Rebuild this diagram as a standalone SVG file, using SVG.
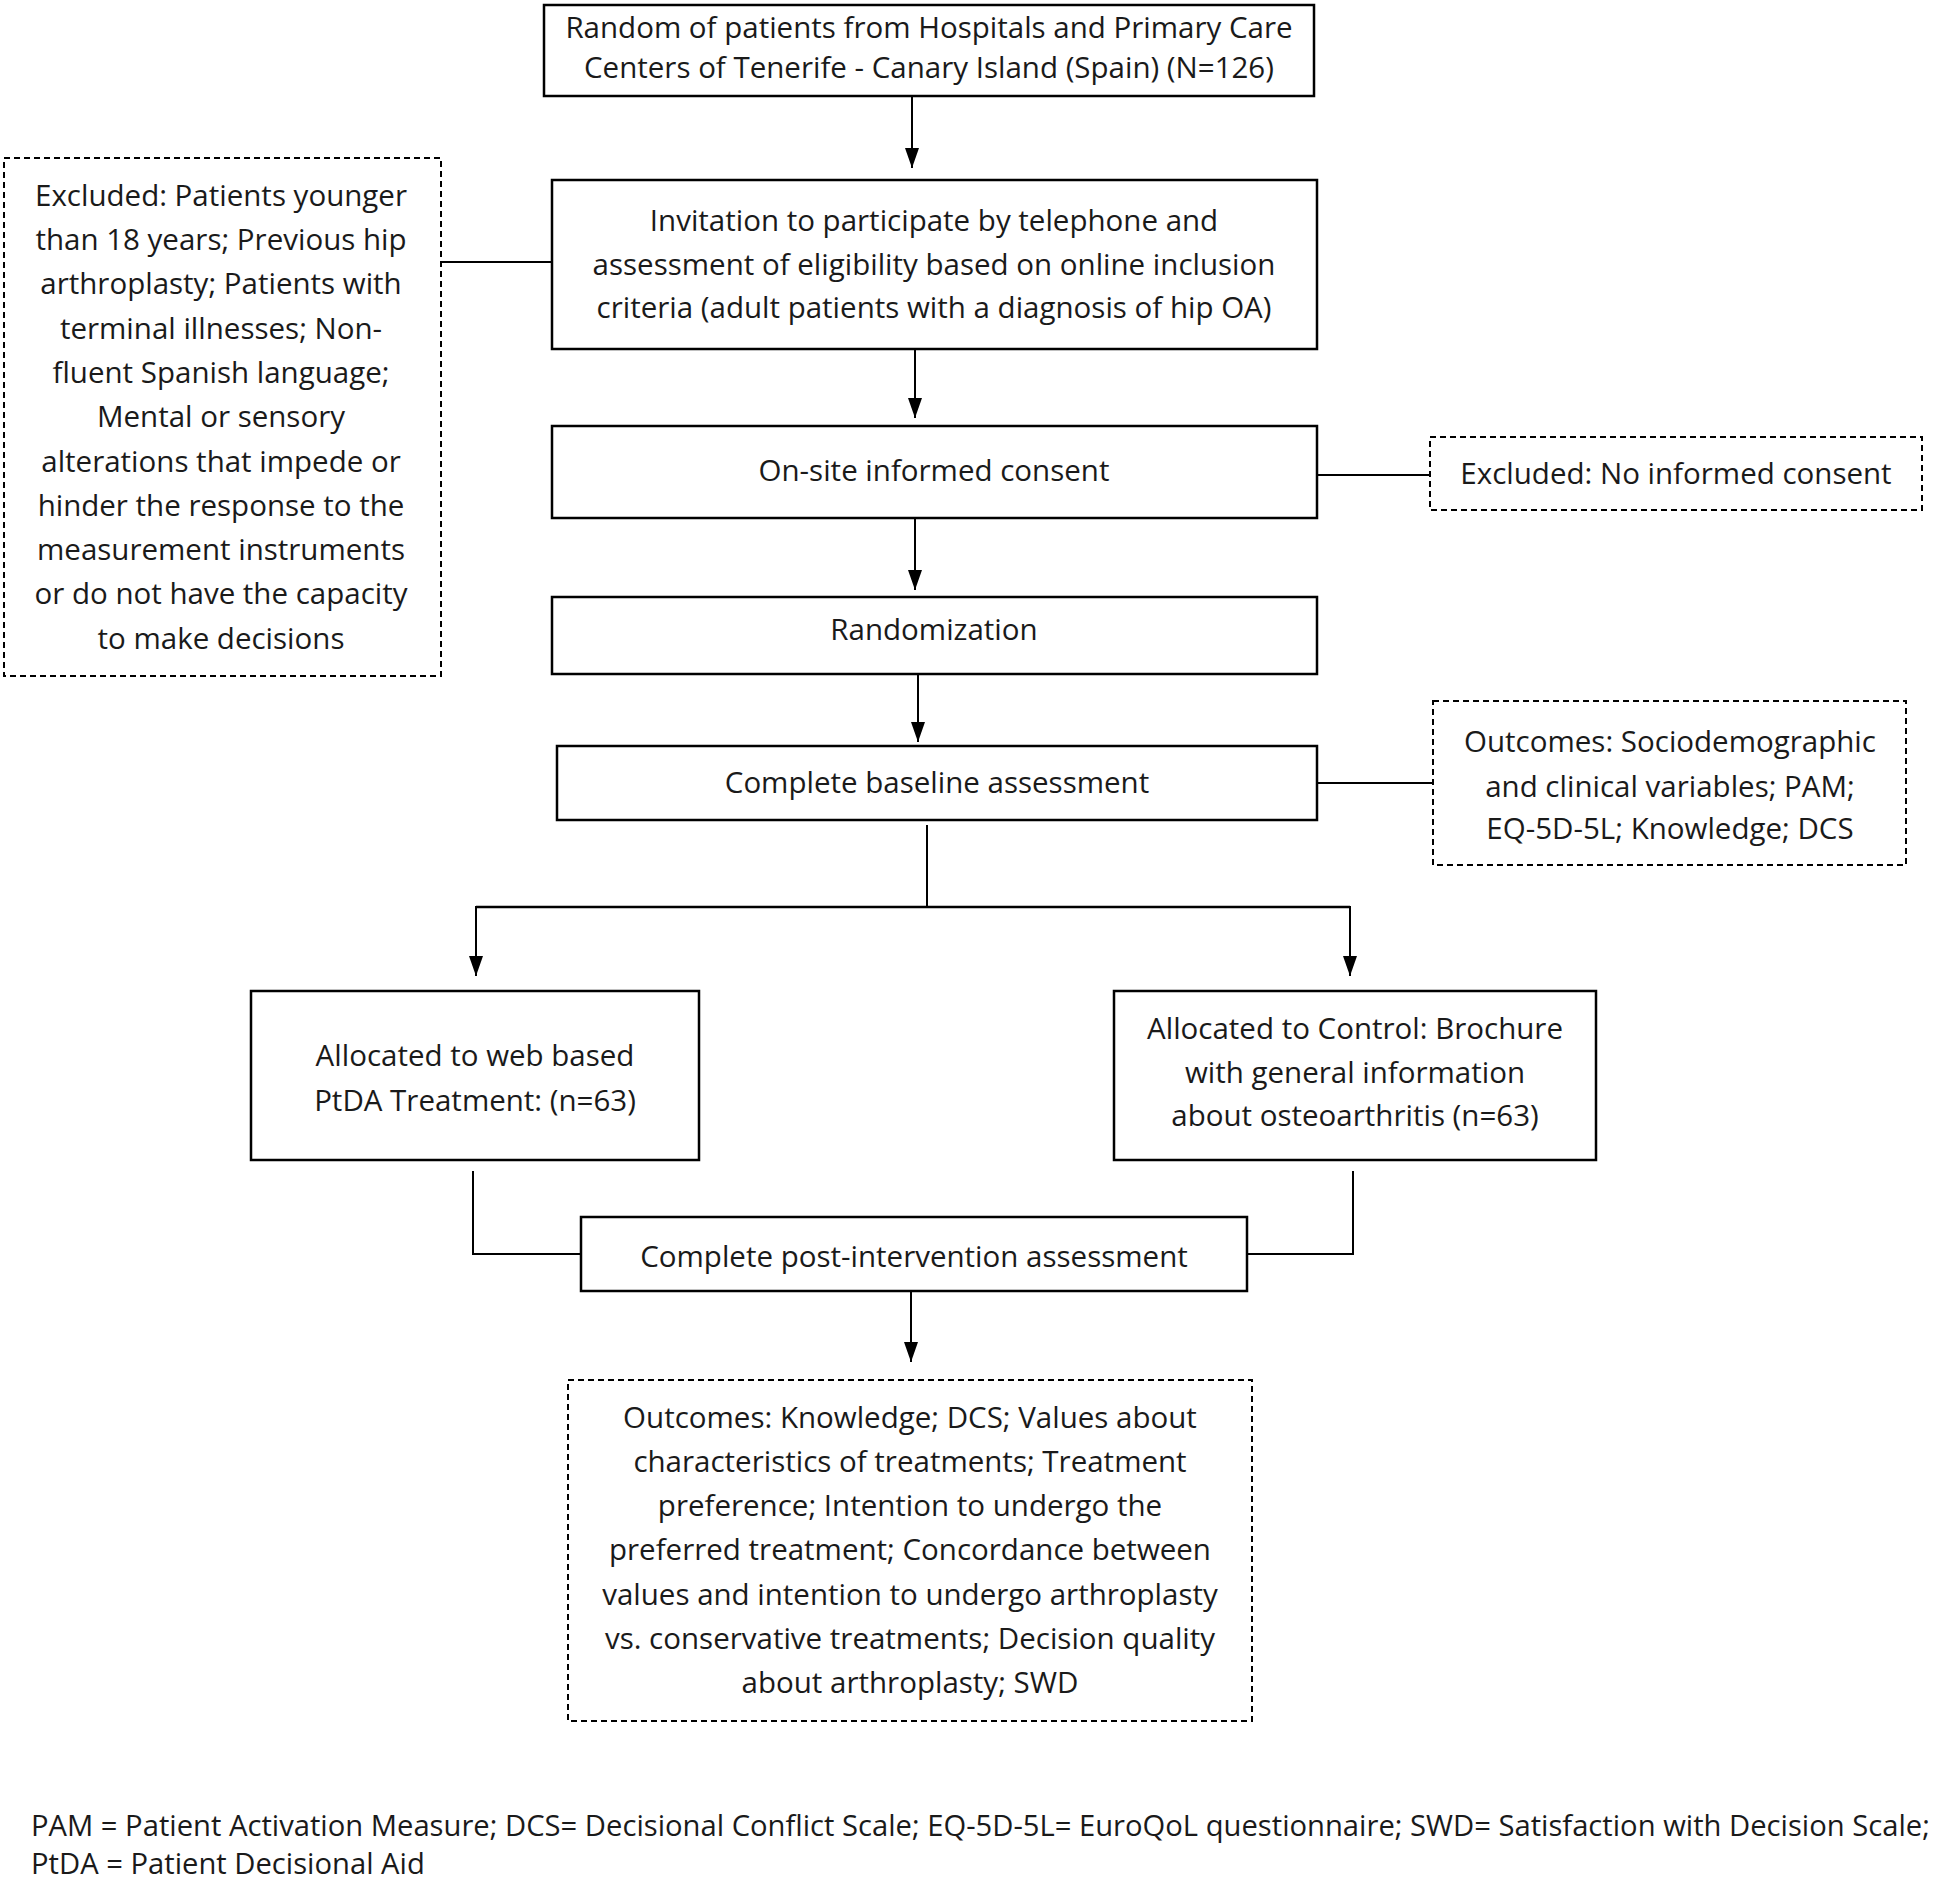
<svg xmlns="http://www.w3.org/2000/svg" width="1946" height="1880" viewBox="0 0 1946 1880">
<defs>
<style>
.box{fill:#fff;stroke:#000;stroke-width:2.5}
.dbox{fill:#fff;stroke:#000;stroke-width:2;stroke-dasharray:6 4}
.ln{fill:none;stroke:#000;stroke-width:2}
.t{font-family:"Open Sans","Liberation Sans",sans-serif;font-size:29.5px;fill:#1a1a1a;text-anchor:middle}
.f{font-family:"Open Sans","Liberation Sans",sans-serif;font-size:29.2px;fill:#1a1a1a}
</style>
<marker id="arr" viewBox="0 0 20 14" refX="20" refY="7" markerWidth="20" markerHeight="14" markerUnits="userSpaceOnUse" orient="auto">
<path d="M0,0 L20,7 L0,14 z" fill="#000"/>
</marker>
</defs>
<rect width="1946" height="1880" fill="#fff"/>
<g id="connectors">
<line class="ln" x1="912" y1="96" x2="912" y2="168" marker-end="url(#arr)"/>
<line class="ln" x1="441" y1="262" x2="552" y2="262"/>
<line class="ln" x1="915" y1="349" x2="915" y2="418" marker-end="url(#arr)"/>
<line class="ln" x1="1317" y1="475" x2="1430" y2="475"/>
<line class="ln" x1="915" y1="518" x2="915" y2="590" marker-end="url(#arr)"/>
<line class="ln" x1="918" y1="674" x2="918" y2="742" marker-end="url(#arr)"/>
<line class="ln" x1="1317" y1="783" x2="1433" y2="783"/>
<line class="ln" x1="927" y1="825" x2="927" y2="907"/>
<line class="ln" x1="476" y1="907" x2="1350" y2="907" style="stroke-width:2.5"/>
<line class="ln" x1="476" y1="906" x2="476" y2="976" marker-end="url(#arr)"/>
<line class="ln" x1="1350" y1="906" x2="1350" y2="976" marker-end="url(#arr)"/>
<polyline class="ln" points="473,1171 473,1254 581,1254"/>
<polyline class="ln" points="1353,1171 1353,1254 1247,1254"/>
<line class="ln" x1="911" y1="1291" x2="911" y2="1362" marker-end="url(#arr)"/>
</g>
<g id="n-random">
<rect class="box" x="544" y="5" width="770" height="91"/>
<text class="t" x="929" y="38">Random of patients from Hospitals and Primary Care</text>
<text class="t" x="929" y="78">Centers of Tenerife - Canary Island (Spain) (N=126)</text>
</g>
<g id="n-excluded1">
<rect class="dbox" x="4" y="158" width="437" height="518"/>
<text class="t" x="221" y="206">Excluded: Patients younger</text>
<text class="t" x="221" y="250">than 18 years; Previous hip</text>
<text class="t" x="221" y="294">arthroplasty; Patients with</text>
<text class="t" x="221" y="339">terminal illnesses; Non-</text>
<text class="t" x="221" y="383">fluent Spanish language;</text>
<text class="t" x="221" y="427">Mental or sensory</text>
<text class="t" x="221" y="472">alterations that impede or</text>
<text class="t" x="221" y="516">hinder the response to the</text>
<text class="t" x="221" y="560">measurement instruments</text>
<text class="t" x="221" y="604">or do not have the capacity</text>
<text class="t" x="221" y="649">to make decisions</text>
</g>
<g id="n-invitation">
<rect class="box" x="552" y="180" width="765" height="169"/>
<text class="t" x="934" y="231">Invitation to participate by telephone and</text>
<text class="t" x="934" y="275">assessment of eligibility based on online inclusion</text>
<text class="t" x="934" y="318">criteria (adult patients with a diagnosis of hip OA)</text>
</g>
<g id="n-consent">
<rect class="box" x="552" y="426" width="765" height="92"/>
<text class="t" x="934" y="481">On-site informed consent</text>
</g>
<g id="n-excluded2">
<rect class="dbox" x="1430" y="437" width="492" height="73"/>
<text class="t" x="1676" y="484">Excluded: No informed consent</text>
</g>
<g id="n-randomization">
<rect class="box" x="552" y="597" width="765" height="77"/>
<text class="t" x="934" y="640">Randomization</text>
</g>
<g id="n-baseline">
<rect class="box" x="557" y="746" width="760" height="74"/>
<text class="t" x="937" y="793">Complete baseline assessment</text>
</g>
<g id="n-outcomes1">
<rect class="dbox" x="1433" y="701" width="473" height="164"/>
<text class="t" x="1670" y="752">Outcomes: Sociodemographic</text>
<text class="t" x="1670" y="797">and clinical variables; PAM;</text>
<text class="t" x="1670" y="839">EQ-5D-5L; Knowledge; DCS</text>
</g>
<g id="n-web">
<rect class="box" x="251" y="991" width="448" height="169"/>
<text class="t" x="475" y="1066">Allocated to web based</text>
<text class="t" x="475" y="1111">PtDA Treatment: (n=63)</text>
</g>
<g id="n-control">
<rect class="box" x="1114" y="991" width="482" height="169"/>
<text class="t" x="1355" y="1039">Allocated to Control: Brochure</text>
<text class="t" x="1355" y="1083">with general information</text>
<text class="t" x="1355" y="1126">about osteoarthritis (n=63)</text>
</g>
<g id="n-post">
<rect class="box" x="581" y="1217" width="666" height="74"/>
<text class="t" x="914" y="1267">Complete post-intervention assessment</text>
</g>
<g id="n-outcomes2">
<rect class="dbox" x="568" y="1380" width="684" height="341"/>
<text class="t" x="910" y="1428">Outcomes: Knowledge; DCS; Values about</text>
<text class="t" x="910" y="1472">characteristics of treatments; Treatment</text>
<text class="t" x="910" y="1516">preference; Intention to undergo the</text>
<text class="t" x="910" y="1560">preferred treatment; Concordance between</text>
<text class="t" x="910" y="1605">values and intention to undergo arthroplasty</text>
<text class="t" x="910" y="1649">vs. conservative treatments; Decision quality</text>
<text class="t" x="910" y="1693">about arthroplasty; SWD</text>
</g>
<g id="footnote">
<text class="f" x="31" y="1836">PAM = Patient Activation Measure; DCS= Decisional Conflict Scale; EQ-5D-5L= EuroQoL questionnaire; SWD= Satisfaction with Decision Scale;</text>
<text class="f" x="31" y="1874">PtDA = Patient Decisional Aid</text>
</g>
</svg>
